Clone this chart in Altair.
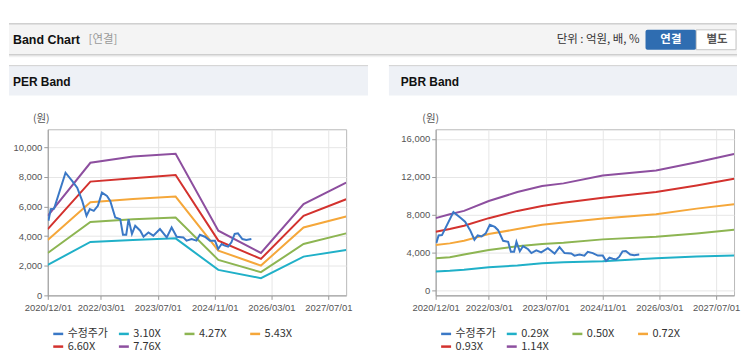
import altair as alt
import pandas as pd

FONT = "Liberation Sans, Arial, Noto Sans CJK KR, sans-serif"
KFONT = "Noto Sans CJK KR, Liberation Sans, sans-serif"

# ---------------- data ----------------
price_name = "수정주가"
price_dates = ["2020-12-07", "2020-12-26", "2021-01-24", "2021-05-02", "2021-06-29", "2021-08-10",
               "2021-09-22", "2021-10-29", "2021-11-26", "2021-12-30", "2022-02-03", "2022-03-10",
               "2022-04-22", "2022-05-20", "2022-07-02", "2022-08-14", "2022-09-06", "2022-10-04",
               "2022-10-24", "2022-11-22", "2022-12-20", "2023-02-01", "2023-03-01", "2023-04-12",
               "2023-05-24", "2023-07-20", "2023-09-16", "2023-10-28", "2023-12-10", "2024-02-05",
               "2024-03-04", "2024-04-16", "2024-05-28", "2024-06-26", "2024-08-08", "2024-09-20",
               "2024-11-02", "2024-11-30", "2024-12-29", "2025-01-26", "2025-02-23", "2025-03-23",
               "2025-04-20", "2025-05-18", "2025-06-25", "2025-07-29", "2025-09-10"]
price_values = [5030, 5815, 5850, 8270, 7710, 7260,
                6370, 5365, 5815, 5700, 6035, 6930,
                6710, 6370, 5250, 5140, 4090, 4090,
                5140, 4140, 4695, 4360, 3955, 4245,
                4025, 4470, 3910, 4580, 3955, 3910,
                3690, 3800, 3690, 4090, 3955, 3690,
                3690, 3130, 3465, 3355, 3285, 3575,
                4140, 4180, 3800, 3735, 3800]

per_names = ["3.10X", "4.27X", "5.43X", "6.60X", "7.76X"]
per_dates = ["2020-12-01", "2021-12-01", "2022-12-01", "2023-12-01",
             "2024-12-01", "2025-12-01", "2026-12-01", "2027-12-01"]
per_310 = [2060, 3600, 3735, 3845, 1720, 1160, 2615, 3065]
per_427 = [2860, 4950, 5140, 5250, 2390, 1565, 3465, 4180]
per_543 = [3735, 6280, 6500, 6660, 3020, 2010, 4580, 5320]
per_660 = [4470, 7670, 7900, 8115, 3690, 2460, 5370, 6485]
per_776 = [5360, 8940, 9370, 9545, 4360, 2860, 6150, 7600]

pbr_names = ["0.29X", "0.50X", "0.72X", "0.93X", "1.14X"]
pbr_dates = ["2020-12-01", "2021-04-01", "2021-08-01", "2022-03-01", "2022-11-01", "2023-06-01",
             "2023-12-01", "2024-11-01", "2026-02-01", "2027-01-15", "2027-12-01"]
pbr_029 = [2020, 2090, 2195, 2470, 2645, 2885, 2990, 3095, 3410, 3590, 3690]
pbr_050 = [3410, 3515, 3800, 4290, 4665, 4915, 5050, 5400, 5680, 6025, 6410]
pbr_072 = [4810, 4980, 5260, 5960, 6485, 6935, 7175, 7595, 8055, 8640, 9100]
pbr_093 = [6200, 6485, 6830, 7635, 8400, 8920, 9270, 9790, 10385, 11085, 11780]
pbr_114 = [7640, 8055, 8400, 9445, 10385, 11015, 11300, 12130, 12660, 13525, 14395]

x_ticks = ["2020-12-01", "2022-03-01", "2023-07-01", "2024-11-01", "2026-03-01", "2027-07-01"]
x_range = ["2020-12-01", "2027-12-01"]
per_yticks = [0, 2000, 4000, 6000, 8000, 10000]
per_ydomain = [0, 11200]
pbr_yticks = [0, 4000, 8000, 12000, 16000]
pbr_ydomain = [-500, 17000]

colors = ["#3a78c6", "#20b0c8", "#8db552", "#f5a73a", "#d3322e", "#8d4f9f"]

header_title = "Band Chart"
header_sub = "[연결]"
header_unit = "단위 : 억원, 배, %"
btn1 = "연결"
btn2 = "별도"
unit_label = "(원)"


def dt(s):
    t = pd.Timestamp(s)
    return alt.DateTime(year=t.year, month=t.month, date=t.day, utc=True)


def make_df(names, dates, series):
    rows = []
    for name, vals in zip(names, series):
        for d, v in zip(dates, vals):
            rows.append({"date": d, "value": v, "series": name})
    for d, v in zip(price_dates, price_values):
        rows.append({"date": d, "value": v, "series": price_name})
    return pd.DataFrame(rows)


one = pd.DataFrame({"a": [0]})


def rect(x, x2, y, y2, fill, **kw):
    return alt.Chart(one).mark_rect(fill=fill, **kw).encode(
        x=alt.value(x), x2=alt.value(x2), y=alt.value(y), y2=alt.value(y2))


def rule(x, x2, y, color):
    return alt.Chart(one).mark_rule(color=color, strokeWidth=1).encode(
        x=alt.value(x), x2=alt.value(x2), y=alt.value(y))


def text(x, y, s, align="left", font=FONT, size=12, weight="normal", color="#111"):
    return alt.Chart(one).mark_text(align=align, baseline="middle", font=font, fontSize=size,
                                    fontWeight=weight, color=color).encode(
        x=alt.value(x), y=alt.value(y), text=alt.value(s))


def lines(df, names, ydom, yticks):
    return alt.Chart(df).mark_line(strokeWidth=2, clip=True).encode(
        x=alt.X("date:T", title=None,
                scale=alt.Scale(type="utc", domain=[dt(x_range[0]), dt(x_range[1])]),
                axis=alt.Axis(values=[dt(s) for s in x_ticks], format="%Y/%m/%d",
                              labelFlush=False, labelOverlap=False, labelPadding=3)),
        y=alt.Y("value:Q", title=None, scale=alt.Scale(domain=ydom, nice=False, zero=False),
                axis=alt.Axis(values=yticks, format=",.0f", labelPadding=2)),
        color=alt.Color("series:N",
                        scale=alt.Scale(domain=[price_name] + names, range=colors),
                        legend=alt.Legend(orient="none", legendX=4, legendY=199, direction="horizontal",
                                          columns=4, gridAlign="all", title=None, symbolType="stroke",
                                          symbolSize=100, symbolStrokeWidth=2.5, labelFont=KFONT,
                                          labelFontSize=11, labelColor="#333", columnPadding=5,
                                          rowPadding=1, padding=0, labelOffset=3)),
    )


per_df = make_df(per_names, per_dates, [per_310, per_427, per_543, per_660, per_776])
pbr_df = make_df(pbr_names, pbr_dates, [pbr_029, pbr_050, pbr_072, pbr_093, pbr_114])

XR = 693  # right end of the header, relative to the left plot

left_decor = [
    rect(-39, XR, -106, -75, "#f4f4f4"),
    rule(-39, XR, -106, "#b9b9b9"),
    rule(-39, XR, -75, "#c4c4c4"),
    rule(-39, XR, -74, "#dedede"),
    rule(-39, XR, -73, "#efefef"),
    text(-35, -90, header_title, size=12.5, weight="bold"),
    text(41, -90, header_sub, font=KFONT, size=11.5, color="#999999"),
    text(595, -90, header_unit, align="right", font=KFONT, size=11.5, color="#333333"),
    rect(601, 652, -100, -80, "#2f6db1", cornerRadius=2),
    rect(652, XR - 1, -100, -80, "#ffffff", stroke="#c5c5c5", strokeWidth=1),
    text(626.5, -90, btn1, align="center", font=KFONT, size=11.5, weight="bold", color="#ffffff"),
    text(673, -90, btn2, align="center", font=KFONT, size=11.5, weight="bold", color="#555555"),
    rect(-39, 322, -64, -34, "#eef1f6"),
    rule(-39, 322, -64, "#d0d0d0"),
    text(-35, -48, "PER Band", size=12, weight="bold"),
    text(-6.5, -10, unit_label, align="center", font=KFONT, size=10.5, color="#555555"),
]

right_decor = [
    rect(-47, XR - 390, -64, -34, "#eef1f6"),
    rule(-47, XR - 390, -64, "#d0d0d0"),
    text(-35, -48, "PBR Band", size=12, weight="bold"),
    text(-5, -10, unit_label, align="center", font=KFONT, size=10.5, color="#555555"),
]

left = alt.layer(*left_decor, lines(per_df, per_names, per_ydomain, per_yticks)).properties(width=300, height=167)
right = alt.layer(*right_decor, lines(pbr_df, pbr_names, pbr_ydomain, pbr_yticks)).properties(width=300, height=167)

chart = alt.hconcat(left, right, spacing=90).resolve_scale(
    color="independent", x="independent", y="independent"
).resolve_legend(color="independent").properties(
    bounds="flush", padding={"top": 14, "left": 0, "right": 0, "bottom": 0}
).configure_view(stroke="#b8b8b8").configure_axis(
    labelFont=FONT, labelFontSize=9.5, labelColor="#555555", gridColor="#e6e6e6",
    domainColor="#9a9a9a", tickColor="#9a9a9a", tickSize=4
)

chart.save("out.html", embed_options={"renderer": "svg", "actions": False})
